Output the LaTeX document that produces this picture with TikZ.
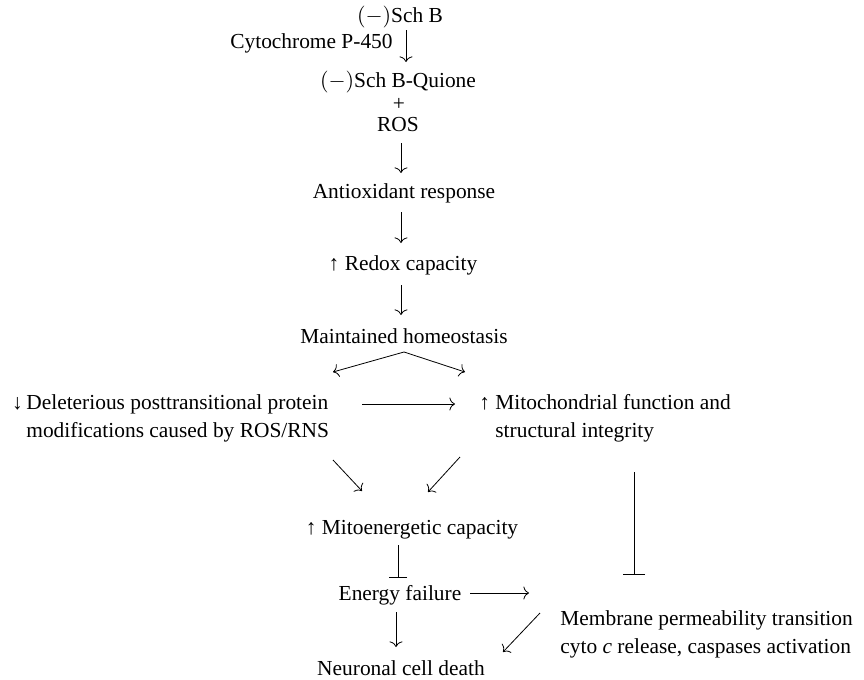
\documentclass[tikz,border=0pt]{standalone}
\usepackage{fontspec}
\setmainfont{Liberation Serif}
\usetikzlibrary{arrows.meta}

\begin{document}
\begin{tikzpicture}[x=0.5pt,y=-0.5pt,
	font=\fontsize{10.7}{14}\selectfont,
	every node/.style={inner sep=0pt},
	flow/.style={-{Computer Modern Rightarrow[length=2.8pt,width=6.5pt]}},
	block/.style={-{Bar[width=#1]}}]
	\useasboundingbox (0,0) rectangle (864,680);

	% Main column
	\node (schb) at (400,17) {$(-)$Sch B};
	\node[anchor=east] (cyto) at (393,43) {Cytochrome P-450};
	\node (quione) at (398,82) {$(-)$Sch B-Quione};
	\node (plus) at (399,104) {+};
	\node (ros) at (398,125) {ROS};
	\node (anti) at (404,193) {Antioxidant response};
	\node (redox) at (403,265) {↑ Redox capacity};
	\node (maint) at (404,336) {Maintained homeostasis};

	% Two branches
	\node[anchor=west, align=left] (delet) at (26,418)
		{\llap{↓\,}Deleterious posttransitional protein\\modifications caused by ROS/RNS};
	\node[anchor=west, align=left] (mito) at (495,418)
		{\llap{↑ }Mitochondrial function and\\structural integrity};

	% Lower part
	\node (energetic) at (412,530) {↑ Mitoenergetic capacity};
	\node (energy) at (400,595) {Energy failure};
	\node[anchor=west, align=left] (membrane) at (560,634)
		{Membrane permeability transition\\cyto \textit{c} release, caspases activation};
	\node (death) at (401,668) {Neuronal cell death};

	% Arrows
	\draw[flow] ([shift={(6,13)}]schb.center) -- ([shift={(8,-20)}]quione.center);
	\draw[flow] ([shift={(3,18)}]ros.center) -- ([shift={(-3,-20)}]anti.center);
	\draw[flow] ([shift={(-3,19)}]anti.center) -- ([shift={(-2,-22)}]redox.center);
	\draw[flow] ([shift={(-2,20)}]redox.center) -- ([shift={(-3,-21)}]maint.center);
	\draw[flow] ([shift={(0,16)}]maint.center) -- ([shift={(307,-46)}]delet.west);
	\draw[flow] ([shift={(0,16)}]maint.center) -- ([shift={(-30,-46)}]mito.west);
	\draw[flow] ([shift={(336,-14)}]delet.west) -- ([shift={(-40,-14)}]mito.west);
	\draw[flow] ([shift={(307,42)}]delet.west) -- ([shift={(-50,-39)}]energetic.center);
	\draw[flow] ([shift={(-35,39)}]mito.west) -- ([shift={(16,-38)}]energetic.center);
	\draw[block=11pt] ([shift={(139,54)}]mito.west) -- ([shift={(74,-59)}]membrane.west);
	\draw[block=9pt] ([shift={(-14,15)}]energetic.center) -- ([shift={(-2,-17)}]energy.center);
	\draw[flow] ([shift={(70,-2)}]energy.center) -- ([shift={(-31,-41)}]membrane.west);
	\draw[flow] ([shift={(-4,17)}]energy.center) -- ([shift={(-5,-21)}]death.center);
	\draw[flow] ([shift={(-20,-21)}]membrane.west) -- ([shift={(102,-16)}]death.center);

\end{tikzpicture}
\end{document}
